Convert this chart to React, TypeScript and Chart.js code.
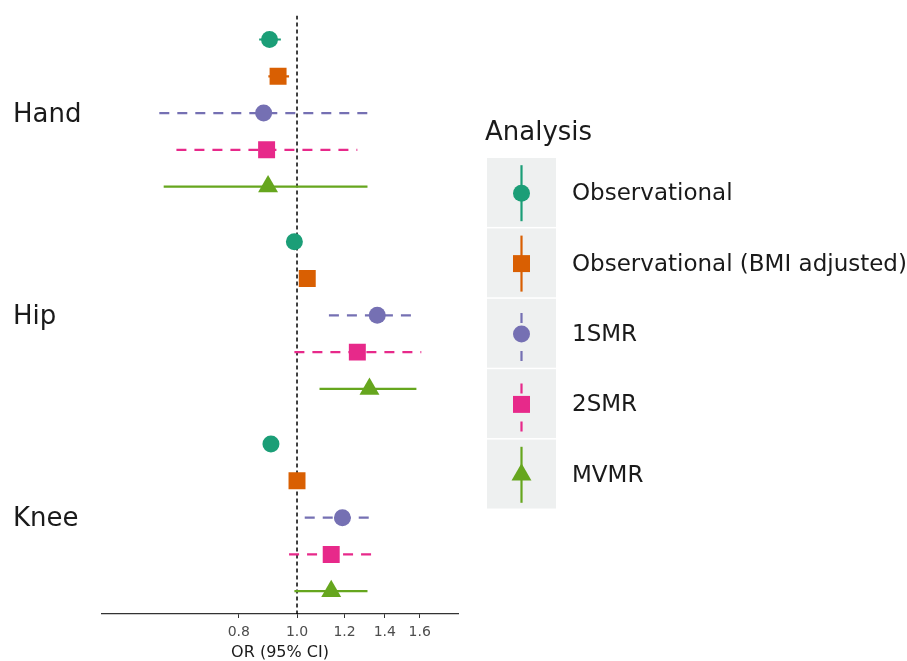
import React, { useEffect, useRef } from "react";
import { Chart, registerables } from "chart.js";
import { drawPoint } from "chart.js/helpers";

Chart.register(...registerables);

// ---------- data ----------
const groups = ["Hand", "Hip", "Knee"];
const analyses = ["Observational", "Observational (BMI adjusted)", "1SMR", "2SMR", "MVMR"];
const legendTitle = "Analysis";
const xAxisTitle = "OR (95% CI)";
const xTicks = [0.8, 1.0, 1.2, 1.4, 1.6];
const refValue = 1.0;

// odds ratios and 95% CI, ordered Hand, Hip, Knee
const obsOR = [0.9, 0.99, 0.905];
const obsLo = [0.865, 0.975, 0.89];
const obsHi = [0.94, 1.005, 0.92];

const bmiOR = [0.93, 1.04, 1.0];
const bmiLo = [0.896, 1.02, 0.98];
const bmiHi = [0.97, 1.06, 1.02];

const smr1OR = [0.88, 1.36, 1.19];
const smr1Lo = [0.59, 1.13, 1.03];
const smr1Hi = [1.31, 1.59, 1.34];

const smr2OR = [0.89, 1.26, 1.14];
const smr2Lo = [0.63, 0.99, 0.97];
const smr2Hi = [1.26, 1.61, 1.35];

const mvmrOR = [0.895, 1.32, 1.14];
const mvmrLo = [0.6, 1.09, 0.99];
const mvmrHi = [1.31, 1.58, 1.31];

// ---------- styles ----------
const FONT = '"DejaVu Sans", "Liberation Sans", Arial, sans-serif';
const colors = ["#1B9E77", "#D95F02", "#7570B3", "#E7298A", "#66A61E"];
const pointStyles = ["circle", "rect", "circle", "rect", "triangle"];
const pointRadii = [8.5, 12, 8.5, 12, 11.5];
const dashes: number[][] = [[], [], [10, 8], [10, 8], []];

const seriesOR = [obsOR, bmiOR, smr1OR, smr2OR, mvmrOR];
const seriesLo = [obsLo, bmiLo, smr1Lo, smr2Lo, mvmrLo];
const seriesHi = [obsHi, bmiHi, smr1Hi, smr2Hi, mvmrHi];

const GROUP_STEP = 5.5;
const rowOf = (g: number, a: number) => g * GROUP_STEP + a;
const Y_MIN = -0.65;
const Y_MAX = 15.62;

const legendPlugin = {
  id: "forestLegend",
  afterDraw(chart: any) {
    const ctx = chart.ctx as CanvasRenderingContext2D;
    ctx.save();
    ctx.fillStyle = "#1a1a1a";
    ctx.font = `26px ${FONT}`;
    ctx.textAlign = "left";
    ctx.textBaseline = "alphabetic";
    ctx.fillText(legendTitle, 485, 140);
    const keyH = 70.4;
    analyses.forEach((name, i) => {
      const top = 158 + i * keyH;
      ctx.fillStyle = "#EEF0F0";
      ctx.fillRect(487, top, 69, keyH - 1.5);
      const cx = 521.5;
      const cy = top + keyH / 2;
      ctx.strokeStyle = colors[i];
      ctx.lineWidth = 2.2;
      ctx.lineCap = "butt";
      if (dashes[i].length) {
        ctx.setLineDash([]);
        ctx.beginPath();
        ctx.moveTo(cx, cy - 21);
        ctx.lineTo(cx, cy - 11);
        ctx.moveTo(cx, cy + 17);
        ctx.lineTo(cx, cy + 27);
        ctx.stroke();
      } else {
        ctx.setLineDash([]);
        ctx.beginPath();
        ctx.moveTo(cx, cy - 28);
        ctx.lineTo(cx, cy + 28);
        ctx.stroke();
      }
      ctx.fillStyle = colors[i];
      drawPoint(ctx, { pointStyle: pointStyles[i], radius: pointRadii[i], rotation: 0, borderWidth: 0 } as any, cx, cy);
      ctx.fillStyle = "#1a1a1a";
      ctx.font = `23px ${FONT}`;
      ctx.textBaseline = "middle";
      ctx.fillText(name, 572, cy + 1);
    });
    ctx.restore();
  },
};

export default function App() {
  const canvasRef = useRef<HTMLCanvasElement | null>(null);

  useEffect(() => {
    document.body.style.margin = "0";
    const canvas = canvasRef.current;
    if (!canvas) return;

    const datasets: any[] = [];

    // reference line at OR = 1
    datasets.push({
      type: "line",
      data: [
        { x: refValue, y: Y_MIN },
        { x: refValue, y: Y_MAX },
      ],
      borderColor: "#000000",
      borderWidth: 1.5,
      borderDash: [4, 3],
      pointRadius: 0,
      order: 3,
    });

    // confidence intervals
    analyses.forEach((name, a) => {
      groups.forEach((_, g) => {
        datasets.push({
          type: "line",
          data: [
            { x: seriesLo[a][g], y: rowOf(g, a) },
            { x: seriesHi[a][g], y: rowOf(g, a) },
          ],
          borderColor: colors[a],
          borderWidth: 2.2,
          borderDash: dashes[a],
          pointRadius: 0,
          order: 2,
        });
      });
    });

    // point estimates
    analyses.forEach((name, a) => {
      datasets.push({
        type: "line",
        label: name,
        showLine: false,
        data: groups.map((_, g) => ({ x: seriesOR[a][g], y: rowOf(g, a) })),
        pointStyle: pointStyles[a],
        pointRadius: pointRadii[a],
        pointBackgroundColor: colors[a],
        pointBorderWidth: 0,
        pointBorderColor: colors[a],
        order: 1,
      });
    });

    const chart = new Chart(canvas, {
      type: "line",
      data: { datasets },
      options: {
        responsive: false,
        animation: false,
        events: [],
        layout: { padding: { left: 13, top: 12, right: 449, bottom: 0 } },
        plugins: { legend: { display: false }, tooltip: { enabled: false } },
        scales: {
          x: {
            type: "logarithmic",
            position: "bottom",
            min: 0.4737,
            max: 1.853,
            afterBuildTicks: (s: any) => {
              s.ticks = xTicks.map((v) => ({ value: v }));
            },
            afterFit: (s: any) => {
              s.height = 47;
            },
            grid: {
              display: true,
              drawOnChartArea: false,
              drawTicks: true,
              tickLength: 4,
              tickColor: "#333333",
              tickWidth: 1,
            },
            border: { display: true, color: "#333333", width: 1.2 },
            ticks: {
              autoSkip: false,
              maxRotation: 0,
              padding: 6,
              color: "#4D4D4D",
              font: { family: FONT, size: 14 },
              callback: (v: any) => Number(v).toFixed(1),
            },
            title: {
              display: true,
              text: xAxisTitle,
              color: "#1a1a1a",
              font: { family: FONT, size: 16, lineHeight: 1 },
              padding: { top: 0, bottom: 0 },
            },
          },
          y: {
            type: "linear",
            reverse: true,
            min: Y_MIN,
            max: Y_MAX,
            afterBuildTicks: (s: any) => {
              s.ticks = groups.map((_, g) => ({ value: rowOf(g, 2) + 0.05 }));
            },
            afterFit: (s: any) => {
              s.width = 89;
            },
            grid: { display: false },
            border: { display: false },
            ticks: {
              autoSkip: false,
              crossAlign: "far",
              padding: 0,
              color: "#1a1a1a",
              font: { family: FONT, size: 26 },
              callback: (_v: any, i: number) => groups[i],
            },
          },
        },
      },
      plugins: [legendPlugin],
    });

    return () => chart.destroy();
  }, []);

  return (
    <div style={{ width: 907, height: 661, background: "#ffffff" }}>
      <canvas ref={canvasRef} width={907} height={661} style={{ display: "block" }} />
    </div>
  );
}
